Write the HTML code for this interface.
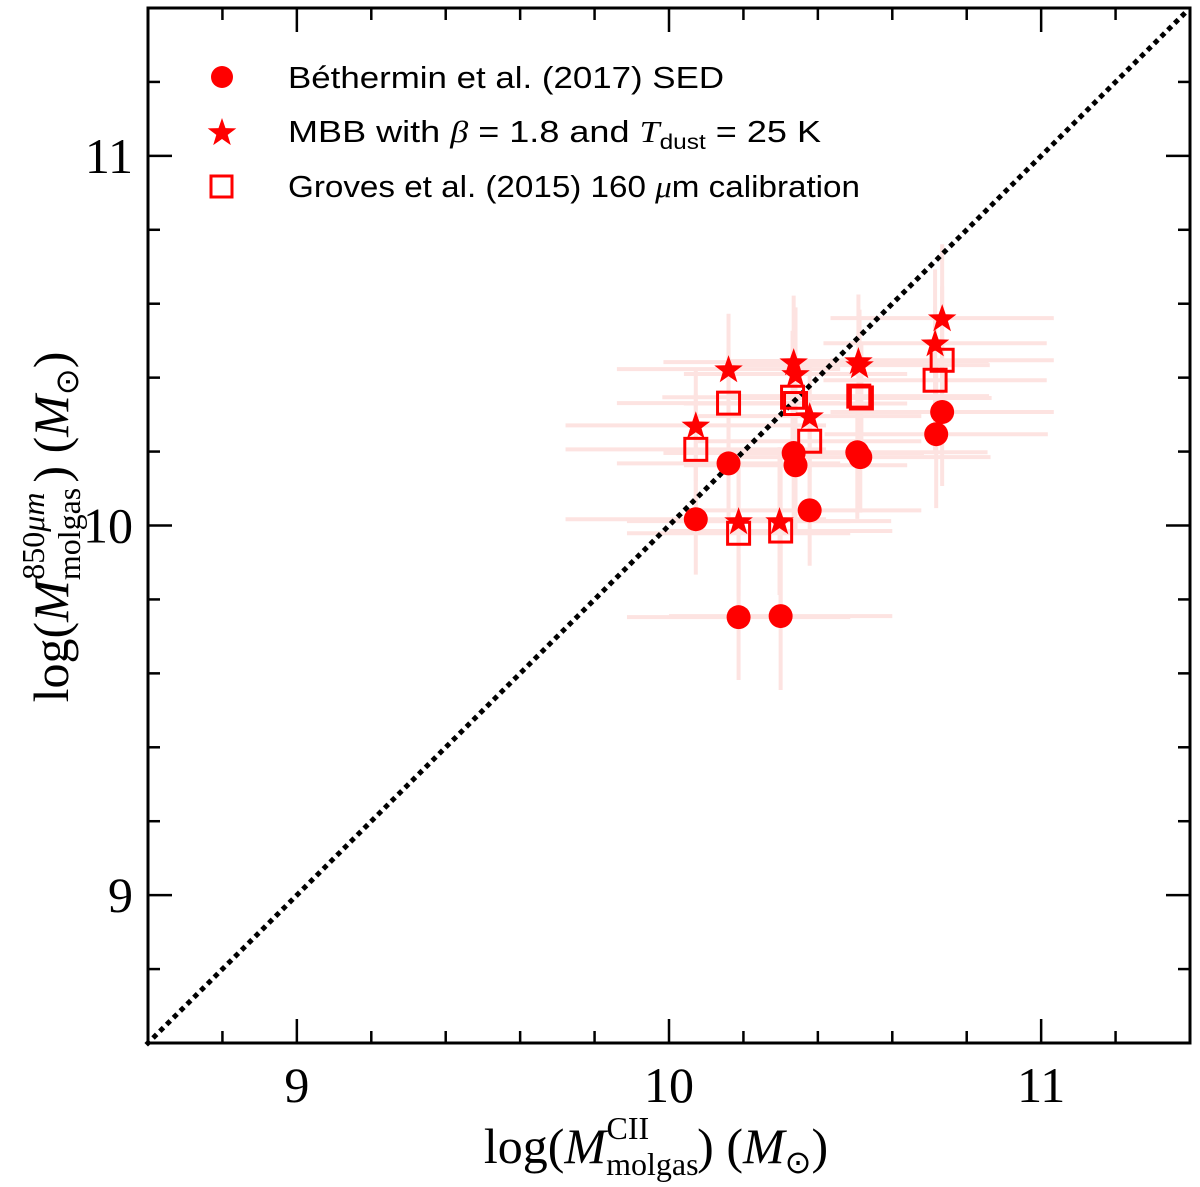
<!DOCTYPE html>
<html><head><meta charset="utf-8"><style>
html,body{margin:0;padding:0;background:#fff;}
svg{display:block;}
</style></head><body>
<svg id="chart" width="1200" height="1187" viewBox="0 0 1200 1187" xmlns="http://www.w3.org/2000/svg">
<g id="errs"></g>
<line id="diag" stroke="#000" stroke-width="5" stroke-dasharray="0.1 9.5" stroke-linecap="square"/>
<g id="marks"></g>
<g id="axes"></g>
<g id="legend" font-family="'Liberation Sans',sans-serif" font-size="31" fill="#000">
<circle cx="222" cy="77" r="11" fill="#f00"/>
<text x="288" y="88" textLength="436" lengthAdjust="spacingAndGlyphs">Béthermin et al. (2017) SED</text>
<polygon id="legstar" fill="#f00"/>
<text x="288" y="142" textLength="533" lengthAdjust="spacingAndGlyphs">MBB with <tspan font-family="'Liberation Serif',serif" font-style="italic">β</tspan> = 1.8 and <tspan font-family="'Liberation Serif',serif" font-style="italic">T</tspan><tspan font-size="21" dy="7">dust</tspan><tspan dy="-7"> = 25 K</tspan></text>
<rect x="211" y="176" width="21" height="21" fill="none" stroke="#f00" stroke-width="3"/>
<text x="288" y="197" textLength="572" lengthAdjust="spacingAndGlyphs">Groves et al. (2015) 160 <tspan font-family="'Liberation Serif',serif" font-style="italic">μ</tspan>m calibration</text>
</g>
<text x="656" y="1163" text-anchor="middle" font-family="'Liberation Serif',serif" font-size="50">log(<tspan font-style="italic">M</tspan><tspan font-size="32" dy="12">molgas</tspan><tspan font-size="32" dx="-92" dy="-36">CII</tspan><tspan dy="24" dx="48">) (</tspan><tspan font-style="italic">M</tspan><tspan font-size="32" dy="10">⊙</tspan><tspan dy="-10">)</tspan></text>
<text transform="translate(68,527) rotate(-90)" text-anchor="middle" font-family="'Liberation Serif',serif" font-size="50">log(<tspan font-style="italic">M</tspan><tspan font-size="32" dy="12">molgas</tspan><tspan font-size="32" dx="-92" dy="-36">850<tspan font-style="italic">μm</tspan></tspan><tspan dy="24" dx="10">) (</tspan><tspan font-style="italic">M</tspan><tspan font-size="32" dy="10">⊙</tspan><tspan dy="-10">)</tspan></text>
</svg>
<script>
const xCircle=[10.072,10.16,10.187,10.30,10.335,10.34,10.378,10.506,10.514,10.718,10.734];
const yCircle=[10.017,10.168,9.752,9.755,10.196,10.163,10.041,10.198,10.185,10.247,10.307];
const xStar=[10.072,10.16,10.187,10.297,10.335,10.34,10.378,10.509,10.512,10.715,10.734];
const yStar=[10.271,10.423,10.012,10.012,10.442,10.41,10.296,10.445,10.434,10.493,10.561];
const xSquare=[10.072,10.16,10.187,10.30,10.332,10.34,10.378,10.51,10.517,10.715,10.734];
const ySquare=[10.206,10.331,9.979,9.985,10.347,10.33,10.228,10.35,10.345,10.393,10.447];
const xErr=[0.35,0.3,0.3,0.3,0.35,0.3,0.3,0.35,0.35,0.3,0.3];
const yErr=[0.15,0.15,0.17,0.2,0.18,0.18,0.15,0.18,0.15,0.2,0.2];
const xTicks=[9,10,11];
const yTicks=[9,10,11];

const L=148,R=1190,T=8,B=1043,MIN=8.6,MAX=11.4;
const sx=v=>L+(v-MIN)/(MAX-MIN)*(R-L);
const sy=v=>B-(v-MIN)/(MAX-MIN)*(B-T);
const NS='http://www.w3.org/2000/svg';
function mk(tag,attrs,parent){const e=document.createElementNS(NS,tag);for(const k in attrs)e.setAttribute(k,attrs[k]);parent.appendChild(e);return e;}
function starPts(cx,cy,r){let p=[];for(let i=0;i<10;i++){const rr=i%2?r*0.4:r;const a=-Math.PI/2+i*Math.PI/5;p.push((cx+rr*Math.cos(a)).toFixed(1)+','+(cy+rr*Math.sin(a)).toFixed(1));}return p.join(' ');}

const errs=document.getElementById('errs');
[[xCircle,yCircle],[xStar,yStar],[xSquare,ySquare]].forEach(([xs,ys])=>{
  xs.forEach((x,i)=>{
    const h=mk('line',{x1:sx(x-xErr[i]),x2:sx(x+xErr[i]),y1:sy(ys[i]),y2:sy(ys[i]),stroke:'#fde3e1','stroke-width':4},errs);
    
    
    const v=mk('line',{x1:sx(x),x2:sx(x),y1:sy(ys[i]-yErr[i]),y2:sy(ys[i]+yErr[i]),stroke:'#fde3e1','stroke-width':4},errs);
    
    
  });
});
const d=document.getElementById('diag');
d.setAttribute('x1',sx(MIN));d.setAttribute('y1',sy(MIN));d.setAttribute('x2',sx(MAX));d.setAttribute('y2',sy(MAX));

const marks=document.getElementById('marks');
xSquare.forEach((x,i)=>{
  const s=mk('rect',{x:sx(x)-11,y:sy(ySquare[i])-11,width:22,height:22,fill:'none',stroke:'#f00','stroke-width':3},marks);
  
  
});
xStar.forEach((x,i)=>{
  const s=mk('polygon',{points:starPts(sx(x),sy(yStar[i])+1,15),fill:'#f00'},marks);
  
  
});
xCircle.forEach((x,i)=>{
  const c=mk('circle',{cx:sx(x),cy:sy(yCircle[i]),r:12,fill:'#f00'},marks);
  
  
});
document.getElementById('legstar').setAttribute('points',starPts(222,133,15));

const ax=document.getElementById('axes');
const fr=mk('rect',{x:L,y:T,width:R-L,height:B-T,fill:'none',stroke:'#000','stroke-width':3},ax);


for(let k=0;k<=14;k++){
  const v=8.6+k*0.2;const major=Math.abs(v-Math.round(v))<1e-6;const len=major?24:12;
  const X=sx(v),Y=sy(v);
  [[X,B,X,B-len],[X,T,X,T+len],[L,Y,L+len,Y],[R,Y,R-len,Y]].forEach(c=>{
    const t=mk('line',{x1:c[0],y1:c[1],x2:c[2],y2:c[3],stroke:'#000','stroke-width':2.5},ax);
    
    
  });
}
xTicks.forEach(v=>{
  const t=mk('text',{x:sx(v),y:1102,'text-anchor':'middle','font-family':"'Liberation Serif',serif",'font-size':50},ax);
  t.textContent=v;
  
  
});
yTicks.forEach(v=>{
  const t=mk('text',{x:133,y:sy(v)+17,'text-anchor':'end','font-family':"'Liberation Serif',serif",'font-size':50},ax);
  t.textContent=v;
  
  
});
</script>
</body></html>
